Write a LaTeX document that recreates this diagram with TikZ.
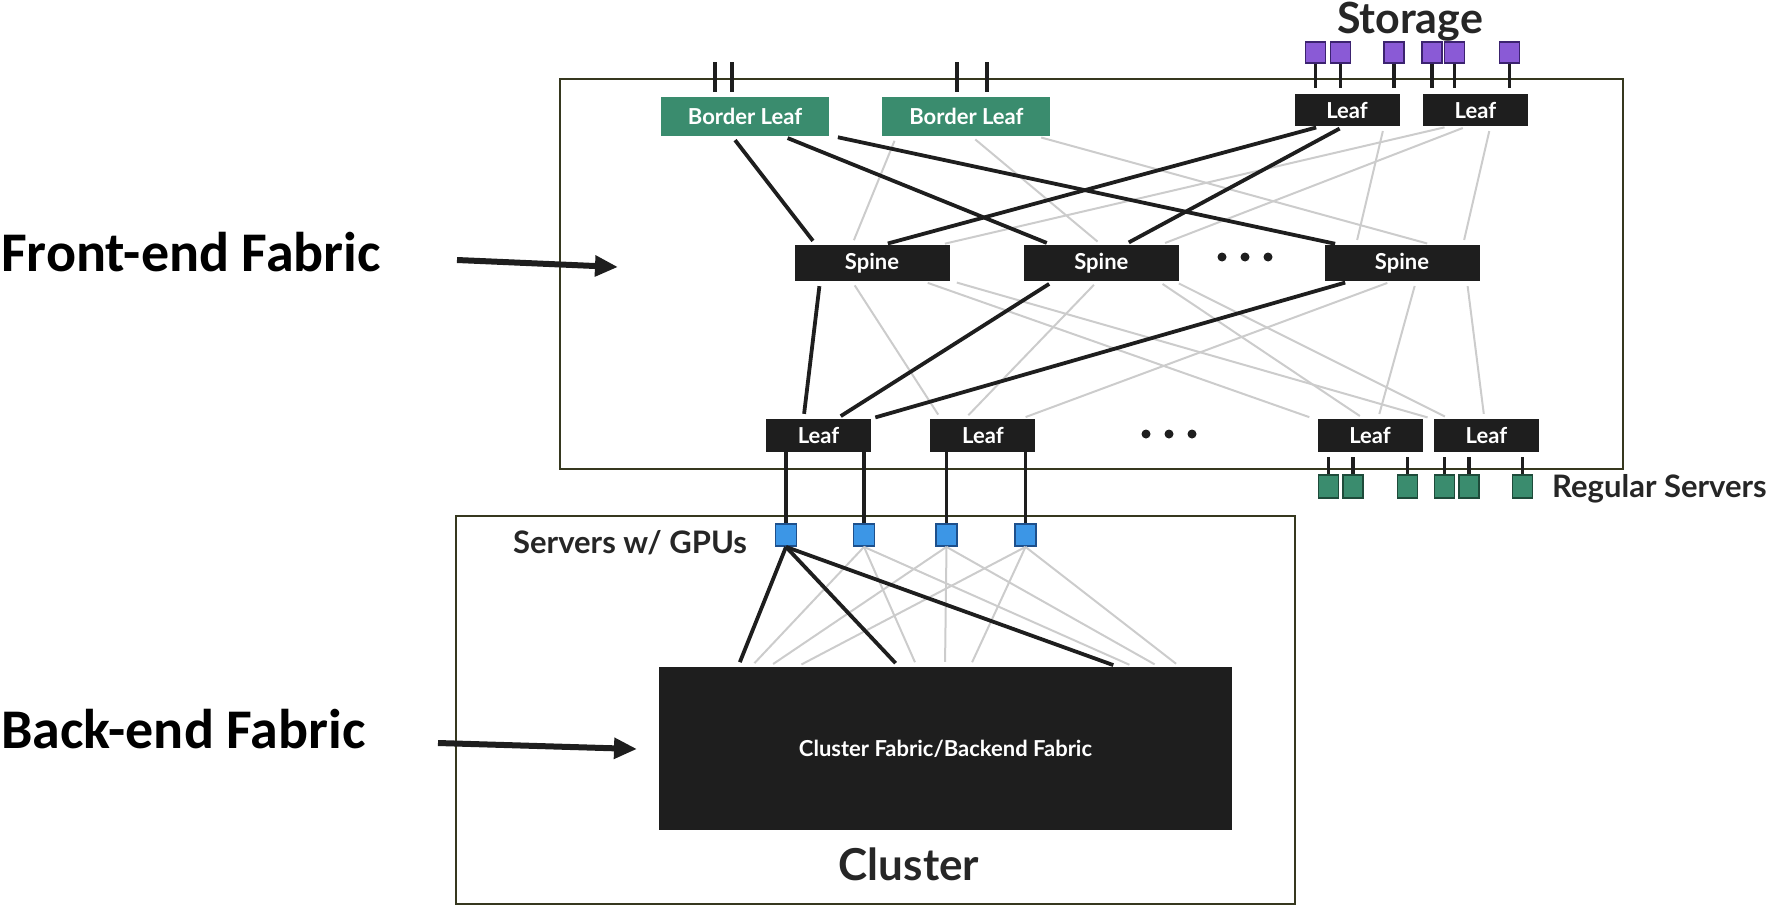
\documentclass[tikz,border=0pt]{standalone}
\usepackage{fontspec}
\setmainfont{Lato}
\newfontfamily\calibri{Carlito}
\usetikzlibrary{arrows.meta, positioning}

\definecolor{nodeblack}{HTML}{1E1E1E}
\definecolor{leafgreen}{RGB}{58,140,110}
\definecolor{srvedge}{RGB}{30,75,58}
\definecolor{storpurple}{RGB}{138,90,214}
\definecolor{storedge}{RGB}{60,35,112}
\definecolor{gpublue}{RGB}{60,150,230}
\definecolor{gpuedge}{RGB}{30,80,140}
\definecolor{linkgray}{RGB}{204,204,204}
\definecolor{framecol}{RGB}{54,56,31}
\definecolor{labelcol}{RGB}{38,38,38}

\begin{document}
\begin{tikzpicture}[x=1pt, y=-1pt,
  sw/.style={fill=nodeblack, text=white, font=\bfseries\fontsize{22}{24}\selectfont, inner sep=0pt},
  spinebox/.style={sw, minimum width=155pt, minimum height=36pt},
  leafbox/.style={sw, minimum width=105pt, minimum height=33pt},
  borderbox/.style={sw, fill=leafgreen, minimum width=168pt, minimum height=39pt},
  srv/.style={draw=srvedge, line width=1.8pt, fill=leafgreen, minimum width=20pt, minimum height=23pt, inner sep=0pt},
  stor/.style={srv, draw=storedge, fill=storpurple, minimum height=21pt},
  gpu/.style={srv, draw=gpuedge, fill=gpublue, minimum width=21pt, minimum height=22pt},
  frame/.style={draw=framecol, line width=2.2pt},
  hot/.style={draw=nodeblack, line width=3.8pt, shorten <=5pt, shorten >=5pt},
  cold/.style={draw=linkgray, line width=2pt, shorten <=5pt, shorten >=5pt},
  stub/.style={draw=nodeblack, line width=3.5pt},
  title/.style={font=\bfseries\fontsize{43}{43}\selectfont, text=labelcol, inner sep=0pt},
  caption/.style={font=\bfseries\fontsize{31}{31}\selectfont, text=labelcol, inner sep=0pt},
  fabric/.style={font=\calibri\bfseries\fontsize{56}{56}\selectfont, inner sep=0pt},
  pointer/.style={-{Triangle[length=23pt, width=20pt]}, line width=6pt, draw=nodeblack}
]
\useasboundingbox (0,0) rectangle (1772,908);

% the two enclosures
\draw[frame] (560,79) rectangle (1623,469);
\draw[frame] (456,516) rectangle (1295,904);

% top row: border leaves and storage leaves
\node[borderbox] (bl1) at (745,116.5) {Border Leaf};
\node[borderbox, right=53pt of bl1] (bl2) {Border Leaf};
\node[leafbox, minimum height=32pt] (sl1) at (1347,110) {Leaf};
\node[leafbox, minimum height=32pt, right=23pt of sl1] (sl2) {Leaf};

% spines
\node[spinebox] (s1) at (872,263) {Spine};
\node[spinebox, right=74pt of s1] (s2) {Spine};
\node[spinebox] (s3) at (1402,263) {Spine};
\foreach \i in {-1,0,1}
  \fill[nodeblack] (1245+\i*23,257) circle (4.5);

% bottom leaves
\node[leafbox] (l1) at (818.5,435.5) {Leaf};
\node[leafbox, right=59pt of l1] (l2) {Leaf};
\node[leafbox] (l3) at (1370,435.5) {Leaf};
\node[leafbox, right=11pt of l3] (l4) {Leaf};
\foreach \i in {-1,0,1}
  \fill[nodeblack] (1169+\i*23,434) circle (4.5);

% storage and regular servers
\foreach \n/\x in {1/1315.5, 2/1340.5, 3/1394, 4/1432, 5/1454.5, 6/1509.5}
  \node[stor] (st\n) at (\x,52.5) {};
\foreach \n/\x in {1/1328.5, 2/1353, 3/1407.5, 4/1444.5, 5/1469, 6/1522.5}
  \node[srv] (rs\n) at (\x,486.5) {};

% gpu servers and the backend fabric
\foreach \n/\x in {1/786, 2/864, 3/946.5, 4/1025.5}
  \node[gpu] (g\n) at (\x,535) {};
\node[sw, minimum width=573pt, minimum height=163pt] (fab) at (945.5,748.5) {Cluster Fabric/Backend Fabric};

% labels
\node[title, anchor=base] (storage) at (1410,33) {Storage};
\node[title, font=\bfseries\fontsize{44}{44}\selectfont, anchor=base] (cluster) at (909,880) {Cluster};
\node[caption, anchor=base west] (regular) at (1552,497) {Regular Servers};
\node[caption, anchor=base west] (gpulbl) at (513,553) {Servers w/ GPUs};
\node[fabric, anchor=base west] (frontlbl) at (1,271) {Front-end Fabric};
\node[fabric, anchor=base west] (backlbl) at (1,748) {Back-end Fabric};

% leaf-spine mesh, grey first
\foreach \a/\p/\b/\q in {bl2/-70/s1/-20, bl2/5/s2/0, bl2/70/s3/30, sl1/37/s3/-46,
    sl2/-26/s1/68, sl2/-8/s2/59, sl2/15/s3/61}
  \draw[cold] ([xshift=\p pt]\a.south) -- ([xshift=\q pt]\b.north);
\foreach \a/\p/\b/\q in {s1/-20/l2/-42, s1/51/l3/-56, s1/80/l4/-54, s2/-4/l2/-18,
    s2/57/l3/-6, s2/73/l4/-37, s3/-10/l2/38, s3/14/l3/8, s3/65/l4/-2}
  \draw[cold] ([xshift=\p pt]\a.south) -- ([xshift=\q pt]\b.north);
\foreach \a/\p/\b/\q in {bl1/-13/s1/-56, bl1/38/s2/-50, bl1/88/s3/-62, sl1/-26/s1/11, sl1/-3/s2/23}
  \draw[hot] ([xshift=\p pt]\a.south) -- ([xshift=\q pt]\b.north);
\foreach \a/\p/\b/\q in {s1/-52/l1/-15, s2/-48/l1/18, s3/-52/l1/52}
  \draw[hot] ([xshift=\p pt]\a.south) -- ([xshift=\q pt]\b.north);

% uplinks leaving the border leaves
\foreach \a/\p in {bl1/-30, bl1/-13, bl2/-9.5, bl2/20.5}
  \draw[stub] ([xshift=\p pt, yshift=5pt]\a.north) -- ++(0,-30);

% storage and server stubs
\foreach \s/\l in {st1/sl1, st2/sl1, st3/sl1, st4/sl2, st5/sl2, st6/sl2}
  \draw[stub, shorten >=6pt] (\s.south) -- (\s.south |- \l.north);
\foreach \s/\l in {rs1/l3, rs2/l3, rs3/l3, rs4/l4, rs5/l4, rs6/l4}
  \draw[stub, shorten >=5pt] (\s.north) -- (\s.north |- \l.south);

% gpu servers up to the front-end leaves
\foreach \g/\l in {g1/l1, g2/l1, g3/l2, g4/l2}
  \draw[hot, shorten <=0pt, shorten >=0pt] (\g.north |- \l.south) -- (\g.north);

% gpu servers down into the backend fabric
\foreach \g/\a/\b/\c in {g2/-194.5/-28.5/188.5, g3/-176.5/-0.5/213.5, g4/-148.5/24.5/234.5} {
  \draw[cold, shorten <=0pt] (\g.south) -- ([xshift=\a pt]fab.north);
  \draw[cold, shorten <=0pt] (\g.south) -- ([xshift=\b pt]fab.north);
  \draw[cold, shorten <=0pt] (\g.south) -- ([xshift=\c pt]fab.north);
}
\foreach \q in {-207.5, -46.5, 172.5}
  \draw[hot, shorten <=0pt] (g1.south) -- ([xshift=\q pt]fab.north);

% pointers from the side labels
\coordinate (fronttail) at (457,260);
\coordinate (fronttip) at (618,267);
\coordinate (backtail) at (438,743);
\coordinate (backtip) at (637,749);
\draw[pointer] (fronttail) -- (fronttip);
\draw[pointer] (backtail) -- (backtip);
\end{tikzpicture}
\end{document}
